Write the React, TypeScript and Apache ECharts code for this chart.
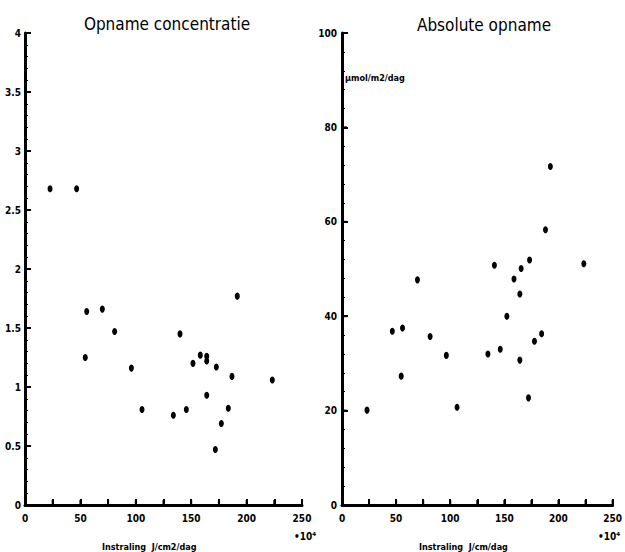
import React, { useEffect, useRef } from "react";
import * as echarts from "echarts";

// Left panel: Opname concentratie
const concX = [22.6, 46.6, 54.4, 55.7, 69.8, 80.9, 96, 105.6, 133.9, 139.9, 145.6, 151.6, 158.2, 164, 164, 164, 172.7, 171.8, 177.2, 183.5, 186.8, 191.6, 223.2];
const concY = [2.68, 2.68, 1.25, 1.64, 1.66, 1.47, 1.16, 0.81, 0.76, 1.45, 0.81, 1.2, 1.27, 1.26, 1.22, 0.93, 1.17, 0.47, 0.69, 0.82, 1.09, 1.77, 1.06];

// Right panel: Absolute opname
const absX = [23.1, 46.5, 54.7, 55.9, 69.7, 81.4, 96.4, 106.3, 134.8, 140.8, 146.2, 152.3, 158.9, 164.3, 164.3, 165.5, 172.3, 173.3, 177.8, 184.4, 188, 192.5, 223.4];
const absY = [20.1, 36.8, 27.3, 37.5, 47.7, 35.7, 31.7, 20.7, 32.0, 50.8, 33.0, 40.0, 47.9, 44.7, 30.7, 50.1, 22.7, 51.9, 34.7, 36.3, 58.3, 71.7, 51.1];

// Tick positions
const xTicks = [0, 25, 50, 75, 100, 125, 150, 175, 200, 225, 250];
const yTicksLeft = [0, 0.5, 1, 1.5, 2, 2.5, 3, 3.5, 4];
const yTicksRight = [0, 20, 40, 60, 80, 100];

const titles = ["Opname concentratie", "Absolute opname"];
const xNames = ["Instraling  J/cm2/dag", "Instraling  J/cm/dag"];
const yUnit = "µmol/m2/dag";
const scaleNote = "•10⁴";

const FONT = "'DejaVu Sans Condensed', 'Liberation Sans Narrow', 'DejaVu Sans', sans-serif";

const mkLine = () => ({ show: true, onZero: false, lineStyle: { color: "#000", width: 3 } });
const mkTick = () => ({ show: true, inside: true, length: 6, lineStyle: { color: "#000", width: 2 } });
const mkMinor = () => ({ show: true, splitNumber: 5, length: 3, lineStyle: { color: "#000", width: 1 } });
const mkLabel = (margin: number) => ({ color: "#000", fontFamily: FONT, fontWeight: "bold", fontSize: 10, margin });
const hiddenSplit = () => ({ show: true, lineStyle: { color: "#fff", opacity: 0 } });

// custom series drawing short inside ticks through the axes' own scales
const tickSeries = (idx: number, xs: number[], ys: number[]) => ({
  type: "custom",
  xAxisIndex: idx,
  yAxisIndex: idx,
  silent: true,
  clip: false,
  z: 3,
  data: [
    ...xs.map((v) => [v, 0, 0]),
    ...ys.map((v) => [0, v, 1]),
  ],
  renderItem: (_p: any, api: any) => {
    const pt = api.coord([api.value(0), api.value(1)]);
    const vertical = api.value(2) === 0;
    return {
      type: "line",
      shape: vertical
        ? { x1: pt[0], y1: pt[1], x2: pt[0], y2: pt[1] - 5 }
        : { x1: pt[0], y1: pt[1], x2: pt[0] + 5, y2: pt[1] },
      style: { stroke: "#000", lineWidth: 2 },
    };
  },
});

export default function App() {
  const ref = useRef<HTMLDivElement>(null);
  useEffect(() => {
    if (!ref.current) return;
    const chart = echarts.init(ref.current, null, { renderer: "svg" });

    const xAxisBase = (gridIndex: number) => ({
      type: "value",
      gridIndex,
      min: 0,
      max: 250,
      interval: 25,
      axisLine: mkLine(),
      axisTick: mkTick(),
      splitLine: hiddenSplit(),
      axisLabel: {
        ...mkLabel(8),
        formatter: (v: number) => (v % 50 === 0 ? String(v) : ""),
      },
    });

    const titleStyle = () => ({ fontFamily: FONT, fontWeight: "normal", fontSize: 17, color: "#000" });

    chart.setOption({
      animation: false,
      title: [
        { text: titles[0], left: 162, top: 10, textAlign: "center", textStyle: titleStyle() },
        { text: titles[1], left: 479, top: 11, textAlign: "center", textStyle: titleStyle() },
      ],
      grid: [
        { left: 25, top: 33, width: 277, height: 472 },
        { left: 342, top: 33, width: 277, height: 472 },
      ],
      xAxis: [xAxisBase(0), xAxisBase(1)],
      yAxis: [
        {
          type: "value", gridIndex: 0, min: 0, max: 4, interval: 0.5,
          axisLine: mkLine(), axisTick: mkTick(), minorTick: mkMinor(), splitLine: hiddenSplit(),
          axisLabel: mkLabel(4),
        },
        {
          type: "value", gridIndex: 1, min: 0, max: 100, interval: 20,
          axisLine: mkLine(), axisTick: mkTick(), minorTick: mkMinor(), splitLine: hiddenSplit(),
          axisLabel: mkLabel(5),
        },
      ],
      series: [
        tickSeries(0, xTicks, yTicksLeft),
        tickSeries(1, xTicks, yTicksRight),
        {
          type: "scatter", xAxisIndex: 0, yAxisIndex: 0,
          symbol: "circle", symbolSize: [5, 7],
          itemStyle: { color: "#000", opacity: 1 },
          data: concX.map((x, i) => [x, concY[i]]),
        },
        {
          type: "scatter", xAxisIndex: 1, yAxisIndex: 1,
          symbol: "circle", symbolSize: [5, 7],
          itemStyle: { color: "#000", opacity: 1 },
          data: absX.map((x, i) => [x, absY[i]]),
        },
      ],
      graphic: [
        { type: "text", left: 102, top: 542, style: { text: xNames[0], fill: "#000", font: `bold 9px ${FONT}` } },
        { type: "text", left: 419, top: 542, style: { text: xNames[1], fill: "#000", font: `bold 9px ${FONT}` } },
        { type: "text", left: 294, top: 531, style: { text: scaleNote, fill: "#000", font: `bold 10px ${FONT}` } },
        { type: "text", left: 598, top: 531, style: { text: scaleNote, fill: "#000", font: `bold 10px ${FONT}` } },
        { type: "text", left: 345, top: 73, style: { text: yUnit, fill: "#000", font: `bold 9px ${FONT}` } },
      ],
    });
    return () => chart.dispose();
  }, []);
  return <div ref={ref} style={{ position: "fixed", left: 0, top: 0, width: 625, height: 552, background: "#fff" }} />;
}
